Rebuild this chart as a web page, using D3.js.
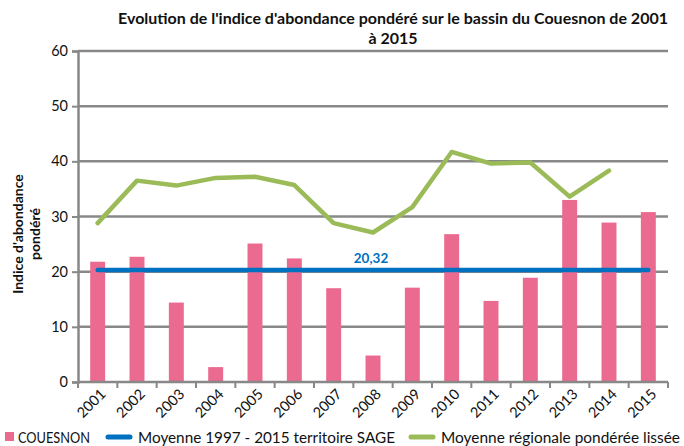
<!DOCTYPE html>
<html>
<head>
<meta charset="utf-8">
<script src="https://cdn.jsdelivr.net/npm/d3@7.9.0/dist/d3.min.js"></script>
<style>
  body { margin: 0; background: #fff; }
  svg { font-family: Lato, 'Open Sans', sans-serif; display: block; }
</style>
</head>
<body>
<div id="chart"></div>
<script>
// ── Data ─────────────────────────────────────────────────────────────────────
const years = ['2001', '2002', '2003', '2004', '2005', '2006', '2007', '2008',
  '2009', '2010', '2011', '2012', '2013', '2014', '2015'];
const couesnon = [21.8, 22.7, 14.4, 2.7, 25.1, 22.4, 17.0, 4.8, 17.1, 26.8, 14.7, 18.9, 33.0, 28.9, 30.8];
const regionale = [28.8, 36.5, 35.6, 37.0, 37.2, 35.7, 28.8, 27.1, 31.7, 41.7, 39.6, 39.8, 33.6, 38.3];
const moyenneSage = 20.32;
const yTicks = [0, 10, 20, 30, 40, 50, 60];
const legendLabels = ['COUESNON', 'Moyenne 1997 - 2015 territoire SAGE', 'Moyenne régionale pondérée lissée'];

// ── Layout ───────────────────────────────────────────────────────────────────
const width = 684, height = 446;
const margin = { top: 51, right: 16, bottom: 64, left: 78 };
const colors = { bar: '#EB6A8F', blue: '#0070C0', green: '#9BBB59', grid: '#888888' };

const svg = d3.select('#chart').append('svg')
  .attr('width', width).attr('height', height);

const x = d3.scaleBand().domain(years)
  .range([margin.left, width - margin.right])
  .paddingInner(0.62).paddingOuter(0.31);

const y = d3.scaleLinear().domain([0, 60])
  .range([height - margin.bottom, margin.top]);

// Gridlines
svg.append('g')
  .selectAll('line')
  .data(yTicks.filter(d => d > 0))
  .join('line')
  .attr('x1', margin.left).attr('x2', width - margin.right)
  .attr('y1', d => y(d)).attr('y2', d => y(d))
  .attr('stroke', colors.grid).attr('stroke-width', 2.5);

// Y axis
const yAxis = svg.append('g')
  .attr('transform', `translate(${margin.left},0)`)
  .call(d3.axisLeft(y).tickValues(yTicks).tickSize(6).tickPadding(4));
yAxis.select('.domain').attr('stroke', colors.grid).attr('stroke-width', 2.5);
yAxis.selectAll('.tick line').attr('stroke', colors.grid).attr('stroke-width', 2);
yAxis.selectAll('.tick text').attr('font-size', 14.5).attr('fill', '#111')
  .attr('font-family', 'Lato, sans-serif');

// Bars
svg.append('g')
  .selectAll('rect')
  .data(couesnon)
  .join('rect')
  .attr('x', (d, i) => x(years[i]))
  .attr('y', d => y(d))
  .attr('width', x.bandwidth())
  .attr('height', d => y(0) - y(d))
  .attr('fill', colors.bar);

// X axis
const step = x.step();
const xAxis = svg.append('g')
  .attr('transform', `translate(0,${y(0)})`);
xAxis.append('line')
  .attr('x1', margin.left).attr('x2', width - margin.right)
  .attr('stroke', colors.grid).attr('stroke-width', 2.5);
const xTickPos = d3.range(years.length + 1).map(i => margin.left + i * step);
xAxis.selectAll('line.tk')
  .data(xTickPos)
  .join('line').attr('class', 'tk')
  .attr('x1', d => d).attr('x2', d => d)
  .attr('y1', 0).attr('y2', 6)
  .attr('stroke', colors.grid).attr('stroke-width', 2);
xAxis.selectAll('text')
  .data(years)
  .join('text')
  .attr('transform', d => `translate(${x(d) + x.bandwidth() / 2 + 9},${13}) rotate(-45)`)
  .attr('text-anchor', 'end')
  .attr('font-size', 14.5)
  .attr('fill', '#111')
  .text(d => d);

// SAGE average line
const cx = d => x(d) + x.bandwidth() / 2;
svg.append('line')
  .attr('x1', cx(years[0])).attr('x2', cx(years[years.length - 1]))
  .attr('y1', y(moyenneSage)).attr('y2', y(moyenneSage))
  .attr('stroke', colors.blue).attr('stroke-width', 4.5).attr('stroke-linecap', 'round');
svg.append('text')
  .attr('x', cx('2008') - 2).attr('y', y(moyenneSage) - 7)
  .attr('text-anchor', 'middle')
  .attr('font-size', 13.5).attr('font-weight', 'bold')
  .attr('fill', colors.blue)
  .text(d3.format('.2f')(moyenneSage).replace('.', ','));

// Regional smoothed line
svg.append('path')
  .datum(regionale)
  .attr('fill', 'none')
  .attr('stroke', colors.green).attr('stroke-width', 4.5)
  .attr('stroke-linejoin', 'round').attr('stroke-linecap', 'round')
  .attr('d', d3.line().x((d, i) => cx(years[i])).y(d => y(d)));

// Title
const title = svg.append('text')
  .attr('text-anchor', 'middle')
  .attr('font-size', 16).attr('font-weight', 'bold').attr('fill', '#111');
title.append('tspan').attr('x', 393).attr('y', 24)
  .text("Evolution de l'indice d'abondance pondéré sur le bassin du Couesnon de 2001");
title.append('tspan').attr('x', 393).attr('y', 44).text('à 2015');

// Y label
const ylab = svg.append('text')
  .attr('transform', 'translate(23,234) rotate(-90)')
  .attr('text-anchor', 'middle')
  .attr('font-size', 14).attr('font-weight', 'bold').attr('fill', '#111');
ylab.append('tspan').attr('x', 0).attr('y', 0).text("Indice d'abondance");
ylab.append('tspan').attr('x', 0).attr('y', 17).text('pondéré');

// Legend
const lg = svg.append('g').attr('transform', 'translate(0,437)');
lg.append('rect').attr('x', 5).attr('y', -5).attr('width', 9).attr('height', 9).attr('fill', colors.bar);
lg.append('line').attr('x1', 108).attr('x2', 130).attr('stroke', colors.blue)
  .attr('stroke-width', 5).attr('stroke-linecap', 'round');
lg.append('line').attr('x1', 411).attr('x2', 433).attr('stroke', colors.green)
  .attr('stroke-width', 5).attr('stroke-linecap', 'round');
const lx = [18, 138, 441];
const lw = [72, 257, 239];
lg.selectAll('text.l')
  .data(legendLabels)
  .join('text').attr('class', 'l')
  .attr('x', (d, i) => lx[i]).attr('y', 5.5)
  .attr('font-size', 15.5).attr('fill', '#111')
  .attr('textLength', (d, i) => lw[i])
  .attr('lengthAdjust', 'spacingAndGlyphs')
  .text(d => d);
</script>
</body>
</html>
